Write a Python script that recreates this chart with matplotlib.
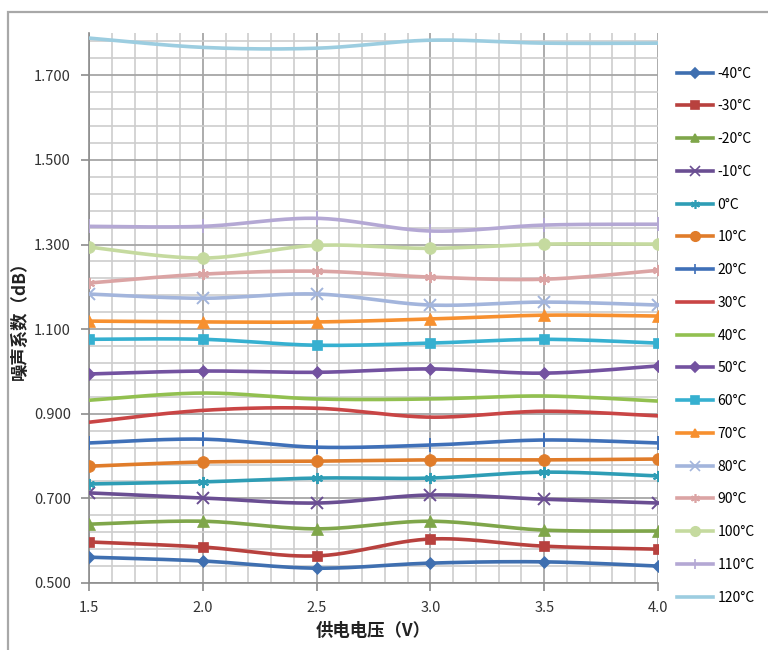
import numpy as np
import matplotlib
matplotlib.use("Agg")
import matplotlib.pyplot as plt
from matplotlib.patches import Rectangle

plt.rcParams['font.family'] = ['Noto Sans CJK SC', 'DejaVu Sans']

# supply voltage (V)
voltage = [1.5, 2.0, 2.5, 3.0, 3.5, 4.0]

labels = ['-40°C', '-30°C', '-20°C', '-10°C', '0°C', '10°C', '20°C', '30°C', '40°C',
          '50°C', '60°C', '70°C', '80°C', '90°C', '100°C', '110°C', '120°C']

# noise figure (dB) per temperature
nf_m40 = [0.561, 0.552, 0.535, 0.547, 0.550, 0.540]
nf_m30 = [0.597, 0.585, 0.564, 0.604, 0.587, 0.580]
nf_m20 = [0.639, 0.646, 0.628, 0.646, 0.625, 0.623]
nf_m10 = [0.713, 0.701, 0.689, 0.708, 0.698, 0.689]
nf_0 = [0.734, 0.739, 0.748, 0.748, 0.762, 0.753]
nf_10 = [0.776, 0.786, 0.788, 0.791, 0.791, 0.793]
nf_20 = [0.831, 0.840, 0.821, 0.826, 0.838, 0.831]
nf_30 = [0.880, 0.908, 0.913, 0.892, 0.906, 0.895]
nf_40 = [0.932, 0.949, 0.935, 0.935, 0.942, 0.930]
nf_50 = [0.994, 1.001, 0.998, 1.006, 0.996, 1.013]
nf_60 = [1.076, 1.076, 1.062, 1.067, 1.076, 1.067]
nf_70 = [1.119, 1.117, 1.117, 1.124, 1.133, 1.131]
nf_80 = [1.183, 1.173, 1.183, 1.157, 1.164, 1.157]
nf_90 = [1.209, 1.230, 1.237, 1.223, 1.218, 1.239]
nf_100 = [1.294, 1.268, 1.298, 1.291, 1.301, 1.301]
nf_110 = [1.343, 1.343, 1.362, 1.332, 1.346, 1.348]
nf_120 = [1.788, 1.766, 1.764, 1.783, 1.776, 1.776]

series = [nf_m40, nf_m30, nf_m20, nf_m10, nf_0, nf_10, nf_20, nf_30, nf_40,
          nf_50, nf_60, nf_70, nf_80, nf_90, nf_100, nf_110, nf_120]

colors = ['#3f6fb0', '#b8413e', '#7fa64a', '#6a4e92', '#2e9db5', '#e07c2a',
          '#3f70b8', '#c94545', '#92c050', '#7352a0', '#36b0d0', '#f7902f',
          '#a3b5dc', '#dba4a4', '#c5da9f', '#b4a8d4', '#9ccde0']
asterisk = (6, 2, 0)
markers = ['D', 's', '^', 'x', asterisk, 'o', '+', None, None,
           'D', 's', '^', 'x', asterisk, 'o', '+', None]
msizes = {'D': 6.5, 's': 7.5, '^': 8, 'x': 8.5, 'o': 8.5, '+': 9.5}


def smooth(x, y, n=30):
    # catmull-rom style smoothing like the excel "smoothed line"
    x = np.asarray(x, float)
    y = np.asarray(y, float)
    px = np.concatenate([[x[0]], x, [x[-1]]])
    py = np.concatenate([[y[0]], y, [y[-1]]])
    xs, ys = [], []
    t = np.linspace(0, 1, n)
    for i in range(1, len(px) - 2):
        for p, out in ((px, xs), (py, ys)):
            p0, p1, p2, p3 = p[i - 1], p[i], p[i + 1], p[i + 2]
            m1 = (p2 - p0) / 2.0
            m2 = (p3 - p1) / 2.0
            h00 = 2*t**3 - 3*t**2 + 1
            h10 = t**3 - 2*t**2 + t
            h01 = -2*t**3 + 3*t**2
            h11 = t**3 - t**2
            out.append(h00*p1 + h10*m1 + h01*p2 + h11*m2)
    return np.concatenate(xs), np.concatenate(ys)


fig = plt.figure(figsize=(7.68, 6.5), dpi=100)
ax = fig.add_axes([89/768, 1 - 583/650, (658 - 89)/768, (583 - 33)/650])

fig.patches.append(Rectangle((8/768, -0.1), 1.2, 1 - 12/650 + 0.1,
                             transform=fig.transFigure, fill=False,
                             edgecolor='#a8a8a8', linewidth=1.6, zorder=0))

for vals, lab, c, m in zip(series, labels, colors, markers):
    sx, sy = smooth(voltage, vals)
    ax.plot(sx, sy, color=c, linewidth=2.6, solid_capstyle='round', zorder=3)
    if m is not None:
        ax.plot(voltage, vals, linestyle='none', marker=m, color=c,
                markersize=msizes.get(m, 8), markeredgewidth=1.4 if m in ('x', '+', asterisk) else 0.5,
                zorder=4)
    ax.plot([], [], color=c, linewidth=2.6, marker=m,
            markersize=msizes.get(m, 8) * 0.8, markeredgewidth=1.2, label=lab)

ax.set_xlim(1.5, 4.0)
ax.set_ylim(0.5, 1.8)
ax.set_xticks([1.5, 2.0, 2.5, 3.0, 3.5, 4.0])
ax.set_xticks(np.arange(1.5, 4.001, 0.1), minor=True)
ax.set_yticks([0.5, 0.7, 0.9, 1.1, 1.3, 1.5, 1.7])
ax.set_yticks(np.arange(0.5, 1.801, 0.04), minor=True)
ax.set_xticklabels(['1.5', '2.0', '2.5', '3.0', '3.5', '4.0'])
ax.set_yticklabels(['%.3f' % v for v in [0.5, 0.7, 0.9, 1.1, 1.3, 1.5, 1.7]])

ax.grid(which='major', color='#a6a6a6', linewidth=1.3, zorder=0)
ax.grid(which='minor', color='#cdcdcd', linewidth=1.2, zorder=0)
ax.set_axisbelow(True)
ax.tick_params(which='major', direction='out', length=6, width=1.2, color='#8c8c8c',
               labelsize=10.5, labelcolor='#333333', pad=7)
ax.tick_params(which='minor', length=0)
for s in ['top', 'right']:
    ax.spines[s].set_visible(False)
for s in ['left', 'bottom']:
    ax.spines[s].set_color('#8c8c8c')
    ax.spines[s].set_linewidth(1.2)

ax.set_xlabel('供电电压（V）', fontsize=12.5, fontweight='bold', color='#222222', labelpad=5)
fig.text(20/768, 1 - 316/650, '噪声系数（dB）', rotation=90, fontsize=12.5,
         fontweight='bold', color='#222222', ha='center', va='center')

fig.legend(loc='upper left', bbox_to_anchor=(671/768, 1 - 61/650), frameon=False,
           fontsize=10, labelspacing=1.35, handlelength=2.6, handletextpad=0.35,
           borderaxespad=0, numpoints=1)

fig.savefig('out.png', dpi=100)
